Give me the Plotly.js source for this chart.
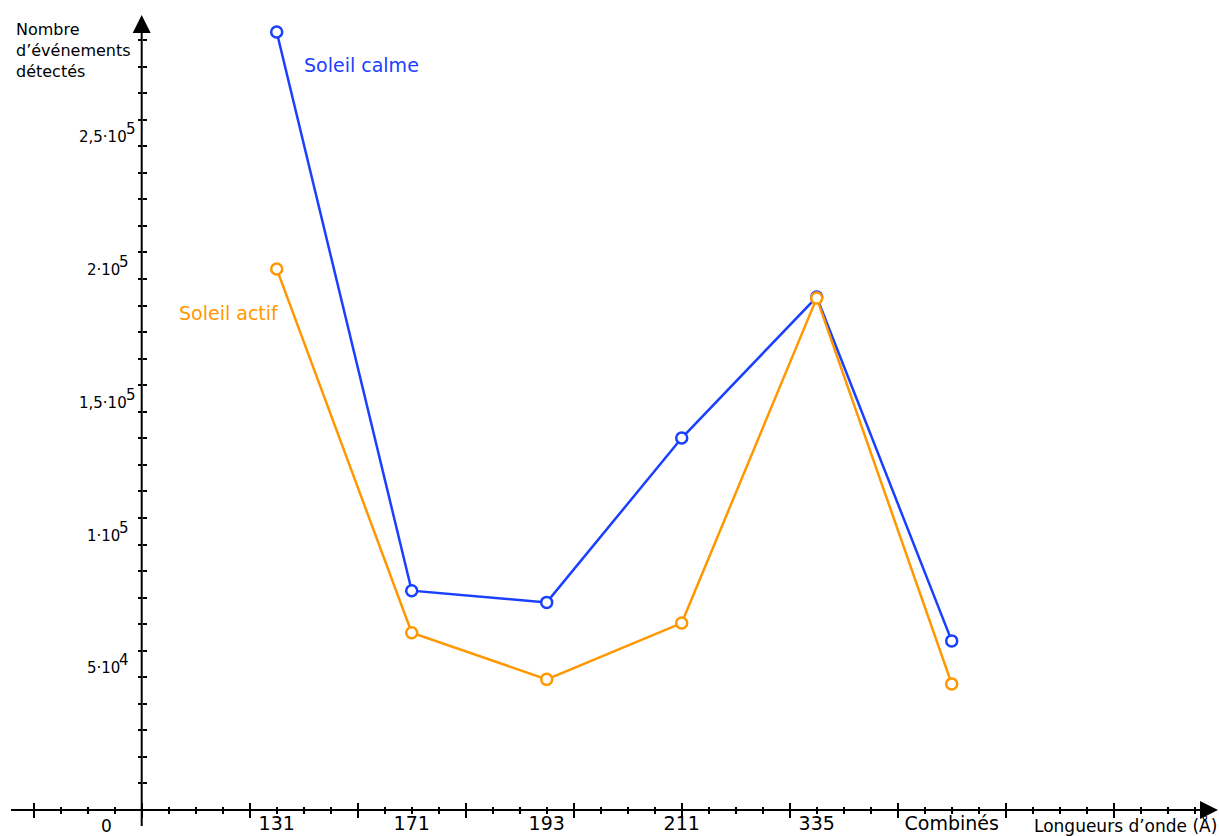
<!DOCTYPE html>
<html><head><meta charset="utf-8">
<script src="https://cdn.plot.ly/plotly-3.0.1.min.js"></script>
<style>html,body{margin:0;padding:0;background:#fff;} #chart{width:1219px;height:836px;}</style>
</head><body><div id="chart"></div>
<script>
// ---- data ----
const categories = ['131', '171', '193', '211', '335', 'Combinés'];
const calme = [293000, 82600, 78200, 140100, 193200, 63700];
const actif = [203800, 66800, 49200, 70400, 192800, 47500];
const yLabelVals = [50000, 100000, 150000, 200000, 250000];
const yLabelMant = ['5', '1', '1,5', '2', '2,5'];
const yLabelExp = ['4', '5', '5', '5', '5'];
const seriesNames = ['Soleil calme', 'Soleil actif'];

// ---- geometry ----
const W = 1219, H = 836;
const X0PX = 141.7, UNIT = 27;          // px per minor x unit
const Y0PX = 810, YPX = 26.55 / 10000;  // px per y unit
const xr = [(0 - X0PX) / UNIT, (W - X0PX) / UNIT];
const yr = [(Y0PX - H) / YPX, Y0PX / YPX];
const catPos = categories.map((c, i) => 5 * (i + 1));
const px = v => v / W, py = v => 1 - v / H;

const xMajor = [], xMinor = [];
for (let u = -4; u <= 39; u++) { (u % 4 === 0 ? xMajor : xMinor).push(u); }
const yTicks = [];
for (let v = 10000; v <= 290000; v += 10000) yTicks.push(v);

const BLUE = '#1a40ff', ORANGE = '#ff9800';
const FONT = 'DejaVu Sans';
const LBL_SIZE = 15;

const traces = [
  {x: catPos, y: calme, name: seriesNames[0], mode: 'lines+markers', xaxis: 'x', yaxis: 'y',
   line: {color: BLUE, width: 2.5}, marker: {symbol: 'circle', size: 11, color: '#fff', line: {color: BLUE, width: 2.5}}},
  {x: catPos, y: actif, name: seriesNames[1], mode: 'lines+markers', xaxis: 'x', yaxis: 'y',
   line: {color: ORANGE, width: 2.5}, marker: {symbol: 'circle', size: 11, color: '#fff', line: {color: ORANGE, width: 2.5}}}
];

const xPos = (H - Y0PX) / H, yPos = X0PX / W;
const common = {range: xr, showgrid: false, zeroline: false, showline: false, fixedrange: true};
const commonY = {range: yr, showgrid: false, zeroline: false, showline: false, fixedrange: true};

const annotations = [
  // axes arrows
  {xref: 'x', yref: 'y', x: 0, y: (Y0PX - 15) / YPX, ax: 0, ay: H - 15 + 2, text: ' ', showarrow: true,
   arrowhead: 2, arrowwidth: 2, arrowsize: 1.8, arrowcolor: '#000', standoff: 0},
  {xref: 'x', yref: 'y', x: (1218 - X0PX) / UNIT, y: 0, ax: -(1218 - 8), ay: 0, text: ' ', showarrow: true,
   arrowhead: 2, arrowwidth: 2, arrowsize: 1.8, arrowcolor: '#000', standoff: 0},
  // origin label
  {xref: 'paper', yref: 'paper', x: px(106), y: py(826), text: '0', showarrow: false,
   xanchor: 'center', yanchor: 'middle', font: {family: FONT, size: 17, color: '#000'}},
  // x axis title
  {xref: 'paper', yref: 'paper', x: px(1219), y: py(825), text: 'Longueurs d’onde (Å)', showarrow: false,
   xanchor: 'right', yanchor: 'middle', font: {family: FONT, size: 17, color: '#000'}},
  // y axis title
  {xref: 'paper', yref: 'paper', x: px(14), y: py(18), text: 'Nombre<br>d’événements<br>détectés', showarrow: false,
   xanchor: 'left', yanchor: 'top', align: 'left', font: {family: FONT, size: 16, color: '#000'}},
  // series labels
  {xref: 'paper', yref: 'paper', x: px(302), y: py(65), text: seriesNames[0], showarrow: false,
   xanchor: 'left', yanchor: 'middle', font: {family: FONT, size: 19, color: BLUE}},
  {xref: 'paper', yref: 'paper', x: px(177), y: py(313), text: seriesNames[1], showarrow: false,
   xanchor: 'left', yanchor: 'middle', font: {family: FONT, size: 19, color: ORANGE}}
];

// y value labels: mantissa + full-size raised exponent, centred as a whole at x = 108 px
const ctx = document.createElement('canvas').getContext('2d');
ctx.font = LBL_SIZE + 'px "' + FONT + '"';
const LBL_CX = 108;
yLabelVals.forEach((v, i) => {
  const m = yLabelMant[i] + '·10', e = yLabelExp[i];
  const wm = ctx.measureText(m).width, we = ctx.measureText(e).width;
  const join = LBL_CX - (wm + we) / 2 + wm;
  annotations.push({
    xref: 'paper', yref: 'y', x: px(join), y: v, yshift: 9, text: m, showarrow: false, borderpad: 0, borderwidth: 0,
    xanchor: 'right', yanchor: 'middle', font: {family: FONT, size: LBL_SIZE, color: '#000'}
  });
  annotations.push({
    xref: 'paper', yref: 'y', x: px(join), y: v, yshift: 17, xshift: -1, text: e, showarrow: false, borderpad: 0, borderwidth: 0,
    xanchor: 'left', yanchor: 'middle', font: {family: FONT, size: LBL_SIZE, color: '#000'}
  });
});

const layout = {
  width: W, height: H, margin: {l: 0, r: 0, t: 0, b: 0, pad: 0},
  paper_bgcolor: '#fff', plot_bgcolor: '#fff', showlegend: false,
  xaxis: Object.assign({}, common, {anchor: 'free', position: xPos, tickmode: 'array', tickvals: catPos,
    ticktext: categories, ticks: '', ticklabelstandoff: 0, tickfont: {family: FONT, size: 19, color: '#000'}}),
  xaxis2: Object.assign({}, common, {overlaying: 'x', anchor: 'free', position: xPos, tickmode: 'array',
    tickvals: xMajor, ticks: 'outside', ticklen: 7, tickwidth: 2, tickcolor: '#000', showticklabels: false,
    minor: {tickmode: 'array', tickvals: xMinor, ticks: 'outside', ticklen: 3, tickwidth: 2, tickcolor: '#000'}}),
  xaxis3: Object.assign({}, common, {overlaying: 'x', anchor: 'free', position: xPos, tickmode: 'array',
    tickvals: xMajor, ticks: 'inside', ticklen: 7, tickwidth: 2, tickcolor: '#000', showticklabels: false,
    minor: {tickmode: 'array', tickvals: xMinor, ticks: 'inside', ticklen: 3, tickwidth: 2, tickcolor: '#000'}}),
  yaxis: Object.assign({}, commonY, {anchor: 'free', position: yPos, tickmode: 'array', tickvals: yTicks,
    ticks: 'outside', ticklen: 4, tickwidth: 2, tickcolor: '#000', showticklabels: false}),
  yaxis2: Object.assign({}, commonY, {overlaying: 'y', anchor: 'free', position: yPos, tickmode: 'array', tickvals: yTicks,
    ticks: 'inside', ticklen: 4, tickwidth: 2, tickcolor: '#000', showticklabels: false}),
  annotations: annotations
};
// empty traces so the overlay tick axes render
traces.push({x: [], y: [], xaxis: 'x2', yaxis: 'y2', hoverinfo: 'skip', showlegend: false});
traces.push({x: [], y: [], xaxis: 'x3', yaxis: 'y', hoverinfo: 'skip', showlegend: false});

Plotly.newPlot('chart', traces, layout, {staticPlot: true, displayModeBar: false});
</script></body></html>
